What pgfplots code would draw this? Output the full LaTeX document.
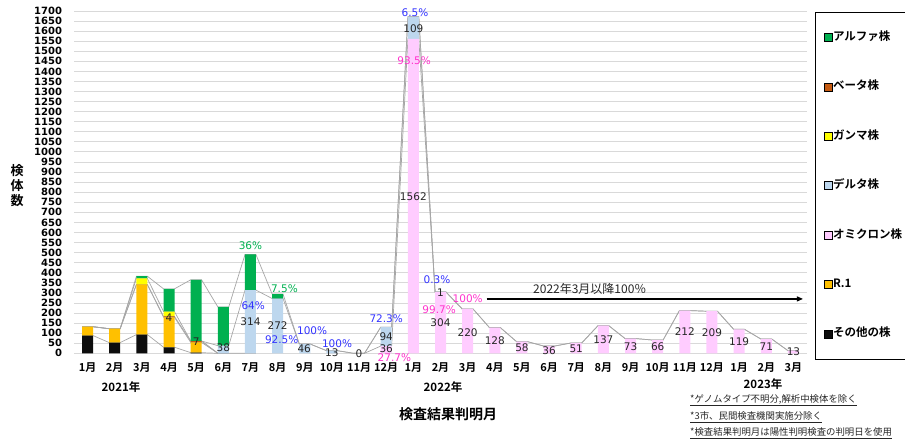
\documentclass[border=0pt]{standalone}
\usepackage{fontspec}
\setmainfont{DejaVu Sans}
\newfontfamily\jp{Noto Sans CJK JP}[BoldFont={Noto Sans CJK JP Bold}]
\usepackage{pgfplots}
\usepackage{pgfplotstable}
\pgfplotsset{compat=1.18}
\usetikzlibrary{arrows.meta}

\definecolor{alphaC}{HTML}{00B050}
\definecolor{betaC}{HTML}{C55A11}
\definecolor{gammaC}{HTML}{FFFF00}
\definecolor{deltaC}{HTML}{BDD7EE}
\definecolor{omiC}{HTML}{FFCCFF}
\definecolor{rC}{HTML}{FFC000}
\definecolor{otherC}{HTML}{0D0D0D}
\definecolor{gridC}{HTML}{D9D9D9}
\definecolor{serC}{HTML}{A6A6A6}
\definecolor{valC}{HTML}{262626}
\definecolor{pB}{HTML}{3333FF}
\definecolor{pM}{HTML}{FF33CC}
\definecolor{pG}{HTML}{00B050}

% counts per month: other, R.1, beta, gamma, omicron, delta, alpha
\pgfplotstableread{
x other r1 beta gamma omi delta alpha
0 88 44 0 0 0 0 0
1 53 69 0 0 0 0 0
2 93 249 0 30 0 0 11
3 30 149 4 24 0 0 113
4 3 51 7 0 0 0 304
5 0 0 0 0 0 38 192
6 0 0 0 0 0 314 177
7 0 0 0 0 0 272 22
8 0 0 0 0 0 46 0
9 0 0 0 0 0 13 0
10 0 0 0 0 0 0 0
11 0 0 0 0 36 94 0
12 0 0 0 0 1562 109 0
13 0 0 0 0 304 1 0
14 0 0 0 0 220 0 0
15 0 0 0 0 128 0 0
16 0 0 0 0 58 0 0
17 0 0 0 0 36 0 0
18 0 0 0 0 51 0 0
19 0 0 0 0 137 0 0
20 0 0 0 0 73 0 0
21 0 0 0 0 66 0 0
22 0 0 0 0 212 0 0
23 0 0 0 0 209 0 0
24 0 0 0 0 119 0 0
25 0 0 0 0 71 0 0
26 0 0 0 0 13 0 0
}\bars

% series lines: segment tops at the bar edges
\pgfplotstableread{
x c1 c2 c3 c4 c5 c6 c7
-0.2 88 132 132 132 132 132 132
0.2 88 132 132 132 132 132 132
0.8 53 122 122 122 122 122 122
1.2 53 122 122 122 122 122 122
1.8 93 342 342 372 372 372 383
2.2 93 342 342 372 372 372 383
2.8 30 179 183 207 207 207 320
3.2 30 179 183 207 207 207 320
3.8 3 54 61 61 61 61 365
4.2 3 54 61 61 61 61 365
4.8 0 0 0 0 0 38 230
5.2 0 0 0 0 0 38 230
5.8 0 0 0 0 0 314 491
6.2 0 0 0 0 0 314 491
6.8 0 0 0 0 0 272 294
7.2 0 0 0 0 0 272 294
7.8 0 0 0 0 0 46 46
8.2 0 0 0 0 0 46 46
8.8 0 0 0 0 0 13 13
9.2 0 0 0 0 0 13 13
9.8 0 0 0 0 0 0 0
10.2 0 0 0 0 0 0 0
10.8 0 0 0 0 36 130 130
11.2 0 0 0 0 36 130 130
11.8 0 0 0 0 1562 1671 1671
12.2 0 0 0 0 1562 1671 1671
12.8 0 0 0 0 304 305 305
13.2 0 0 0 0 304 305 305
13.8 0 0 0 0 220 220 220
14.2 0 0 0 0 220 220 220
14.8 0 0 0 0 128 128 128
15.2 0 0 0 0 128 128 128
15.8 0 0 0 0 58 58 58
16.2 0 0 0 0 58 58 58
16.8 0 0 0 0 36 36 36
17.2 0 0 0 0 36 36 36
17.8 0 0 0 0 51 51 51
18.2 0 0 0 0 51 51 51
18.8 0 0 0 0 137 137 137
19.2 0 0 0 0 137 137 137
19.8 0 0 0 0 73 73 73
20.2 0 0 0 0 73 73 73
20.8 0 0 0 0 66 66 66
21.2 0 0 0 0 66 66 66
21.8 0 0 0 0 212 212 212
22.2 0 0 0 0 212 212 212
22.8 0 0 0 0 209 209 209
23.2 0 0 0 0 209 209 209
23.8 0 0 0 0 119 119 119
24.2 0 0 0 0 119 119 119
24.8 0 0 0 0 71 71 71
25.2 0 0 0 0 71 71 71
25.8 0 0 0 0 13 13 13
26.2 0 0 0 0 13 13 13
}\serlines

\pgfplotsset{
  frame/.style={at={(74pt,87.7pt)}, anchor=south west, scale only axis,
    width=733pt, height=342.3pt, xmin=-0.5, xmax=26.5, ymin=0, ymax=1700},
}

\begin{document}
\begin{tikzpicture}[
  lbl/.style={font=\fontsize{10.5}{10}\selectfont, text=valC, inner sep=0pt},
  pb/.style={lbl, text=pB}, pm/.style={lbl, text=pM}, pg/.style={lbl, text=pG}]
\begin{axis}[frame,
  ytick={0,50,...,1700}, xtick={0,...,26},
  xticklabels={1月,2月,3月,4月,5月,6月,7月,8月,9月,10月,11月,12月,1月,2月,3月,4月,5月,6月,7月,8月,9月,10月,11月,12月,1月,2月,3月},
  ymajorgrids, grid style={color=gridC, line width=0.9pt},
  axis line style={draw=none}, major tick length=0pt,
  /pgf/number format/assume math mode=true, /pgf/number format/1000 sep={},
  yticklabel style={font=\bfseries\fontsize{10}{10}\selectfont, anchor=east, xshift=-8.5pt},
  xticklabel style={font=\jp\bfseries\fontsize{11}{11}\selectfont, anchor=base, yshift=-18.5pt},
]
\addplot[serC, line width=0.7pt, restrict x to domain=-1:6.3] table[x=x, y=c1] {\serlines};
\addplot[serC, line width=0.7pt, restrict x to domain=-1:5.3] table[x=x, y=c2] {\serlines};
\addplot[serC, line width=0.7pt, restrict x to domain=-1:5.3] table[x=x, y=c3] {\serlines};
\addplot[serC, line width=0.7pt, restrict x to domain=-1:5.3] table[x=x, y=c4] {\serlines};
\addplot[serC, line width=0.7pt, restrict x to domain=9.7:27] table[x=x, y=c5] {\serlines};
\addplot[serC, line width=0.7pt, restrict x to domain=3.7:13.3] table[x=x, y=c6] {\serlines};
\addplot[serC, line width=0.7pt] table[x=x, y=c7] {\serlines};
\end{axis}

\begin{axis}[frame, hide axis, clip=false,
  ybar stacked, bar width=11pt,
  legend image code/.code={\fill[#1] (0pt,-4pt) rectangle (8pt,4pt);},
  legend style={at={(1.0109,0.998)}, anchor=north west, draw=black, line width=0.7pt,
    font=\jp\bfseries\fontsize{11.5}{11.5}\selectfont, row sep=38.4pt,
    inner xsep=9pt, inner ysep=20pt,
    nodes={inner sep=0pt, text height=8.5pt, text depth=2.5pt},
    /tikz/every even column/.append style={column sep=4pt}},
  legend cell align=left,
]
\addlegendimage{fill=alphaC}\addlegendentry{アルファ株}
\addlegendimage{fill=betaC}\addlegendentry{ベータ株}
\addlegendimage{fill=gammaC}\addlegendentry{ガンマ株}
\addlegendimage{fill=deltaC}\addlegendentry{デルタ株}
\addlegendimage{fill=omiC}\addlegendentry{オミクロン株}
\addlegendimage{fill=rC}\addlegendentry{R.1}
\addlegendimage{fill=otherC}\addlegendentry{その他の株}
\addplot[fill=otherC, draw=none] table[x=x, y=other] {\bars};
\addplot[fill=rC, draw=none] table[x=x, y=r1] {\bars};
\addplot[fill=betaC, draw=none] table[x=x, y=beta] {\bars};
\addplot[fill=gammaC, draw=none] table[x=x, y=gamma] {\bars};
\addplot[fill=omiC, draw=none] table[x=x, y=omi] {\bars};
\addplot[fill=deltaC, draw=none] table[x=x, y=delta] {\bars};
\addplot[fill=alphaC, draw=none] table[x=x, y=alpha] {\bars};
\end{axis}

% data labels on top of the bars
\begin{axis}[frame, hide axis, clip=false]
\node[lbl] at (axis cs:3,175) {4};
\node[lbl] at (axis cs:4,58) {7};
\node[lbl] at (axis cs:5,26) {38};
\node[pg] at (axis cs:6,533) {36\%};
\node[pb] at (axis cs:6.1,235) {64\%};
\node[lbl] at (axis cs:6,156) {314};
\node[pg] at (axis cs:7.25,320) {7.5\%};
\node[lbl] at (axis cs:7,136) {272};
\node[pb] at (axis cs:7.15,66) {92.5\%};
\node[pb] at (axis cs:8.27,111) {100\%};
\node[lbl] at (axis cs:7.98,21) {46};
\node[pb] at (axis cs:9.19,50) {100\%};
\node[lbl] at (axis cs:9,4) {13};
\node[lbl] at (axis cs:10,-3) {0};
\node[pb] at (axis cs:11,170) {72.3\%};
\node[lbl] at (axis cs:11,83) {94};
\node[lbl] at (axis cs:11,24) {36};
\node[pm] at (axis cs:11.3,-20) {27.7\%};
\node[pb] at (axis cs:12.06,1690) {6.5\%};
\node[lbl] at (axis cs:12,1610) {109};
\node[pm] at (axis cs:12.03,1452) {93.5\%};
\node[lbl] at (axis cs:12,776) {1562};
\node[pb] at (axis cs:12.87,364) {0.3\%};
\node[lbl] at (axis cs:13,300) {1};
\node[pm] at (axis cs:12.95,215) {99.7\%};
\node[lbl] at (axis cs:13,150) {304};
\node[pm] at (axis cs:14,270) {100\%};
\node[lbl] at (axis cs:14,101) {220};
\node[lbl] at (axis cs:15,61) {128};
\node[lbl] at (axis cs:16,26) {58};
\node[lbl] at (axis cs:17,12) {36};
\node[lbl] at (axis cs:18,22) {51};
\node[lbl] at (axis cs:19,66) {137};
\node[lbl] at (axis cs:20,32) {73};
\node[lbl] at (axis cs:21,32) {66};
\node[lbl] at (axis cs:22,106) {212};
\node[lbl] at (axis cs:23,100) {209};
\node[lbl] at (axis cs:24,56) {119};
\node[lbl] at (axis cs:25,32) {71};
\node[lbl] at (axis cs:26,6) {13};
\draw[-{Triangle[length=6pt,width=5pt]}, line width=1.2pt] (axis cs:14.7,270) -- (axis cs:26.35,270);
\node[font=\jp\fontsize{12}{12}\selectfont, text=valC, inner sep=0pt] at (axis cs:18.5,318) {2022年3月以降100％};
\end{axis}

\node[font=\jp\bfseries\fontsize{11.5}{11.5}\selectfont, inner sep=0pt] at (121pt,54pt) {2021年};
\node[font=\jp\bfseries\fontsize{11.5}{11.5}\selectfont, inner sep=0pt] at (443pt,54pt) {2022年};
\node[font=\jp\bfseries\fontsize{11.5}{11.5}\selectfont, inner sep=0pt] at (763pt,57pt) {2023年};
\node[font=\jp\bfseries\fontsize{14}{14}\selectfont, inner sep=0pt] at (448pt,27pt) {検査結果判明月};
\node[font=\jp\bfseries\fontsize{13}{15}\selectfont, inner sep=0pt, align=center] at (17pt,255pt) {検\\体\\数};
\begin{scope}[every node/.style={font=\jp\fontsize{9.4}{9.4}\selectfont, text=valC, inner sep=0pt, anchor=west}]
\node at (690pt,41pt) {\underline{*ゲノムタイプ不明分,解析中検体を除く}};
\node at (690pt,24pt) {\underline{*3市、民間検査機関実施分除く}};
\node at (690pt,8pt) {\underline{*検査結果判明月は陽性判明検査の判明日を使用}};
\end{scope}
\pgfresetboundingbox
\path[use as bounding box] (0,0) rectangle (905pt,441pt);
\end{tikzpicture}
\end{document}
